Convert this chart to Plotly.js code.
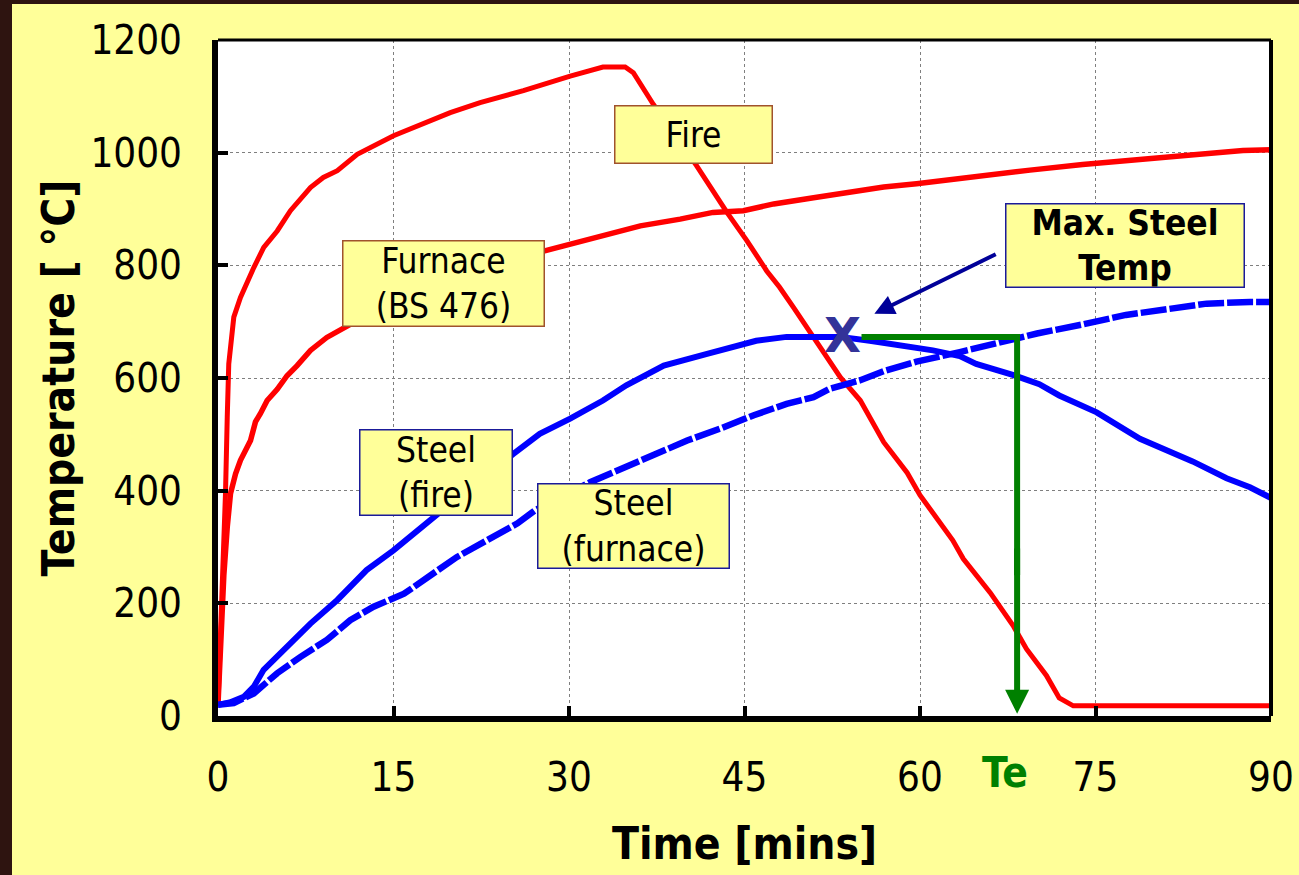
<!DOCTYPE html>
<html>
<head>
<meta charset="utf-8">
<script src="https://cdn.plot.ly/plotly-3.0.1.min.js"></script>
<style>
  html, body { margin: 0; padding: 0; background: #2e1410; width: 1299px; height: 875px; overflow: hidden; }
  #chart { position: absolute; left: 12px; top: 4px; width: 1287px; height: 871px; }
</style>
</head>
<body>
<div id="chart"></div>
<script>
// ---- Data ----
const fireTime = [0, 0.15, 0.36, 0.5, 0.64, 0.79, 0.92, 1.35, 1.92, 3.06, 3.91, 5.06, 6.19, 7.9, 9.0, 10.2, 11.9, 15.0, 17.0, 19.85, 22.4, 26.1, 30.1, 32.9, 34.8, 35.5, 37.2, 40.9, 43.5, 45.2, 46.9, 48.0, 49.2, 50.9, 53.2, 54.9, 56.9, 58.9, 60.0, 62.8, 63.7, 66.0, 68.0, 69.1, 70.8, 71.9, 73.1, 90];
const fireTemp = [20, 110, 182, 288, 395, 530, 625, 708, 743, 796, 832, 861, 897, 938, 956, 968, 997, 1030, 1047, 1071, 1089, 1110, 1136, 1152, 1152, 1142, 1086, 977, 894, 844, 790, 761, 725, 672, 601, 560, 486, 432, 392, 312, 279, 219, 159, 119, 72, 32, 18, 18];

const furnaceTime = [0, 0.25, 0.5, 0.79, 1.07, 1.5, 1.92, 2.78, 3.2, 3.63, 4.2, 5.06, 5.9, 6.76, 7.9, 9.3, 11.3, 15, 20, 25, 28, 30.1, 32.9, 36.1, 39.5, 42.3, 44.9, 47.5, 50.9, 53.7, 56.9, 59.7, 63.4, 66.3, 69.4, 73.9, 77.6, 81.1, 83.9, 87.6, 90];
const furnaceTemp = [20, 150, 250, 335, 395, 430, 454, 489, 522, 537, 560, 580, 604, 622, 649, 672, 696, 738, 780, 812, 826, 838, 853, 870, 882, 894, 897, 909, 920, 929, 939, 945, 955, 962, 969, 979, 985, 992, 997, 1004, 1005];

const steelFireTime = [0, 1.0, 2.2, 3.06, 3.9, 5.9, 7.9, 10.2, 12.7, 15.0, 18.1, 21.5, 25.3, 27.5, 30.1, 32.9, 34.9, 38.1, 41.8, 46.0, 48.6, 53.2, 55.7, 58.3, 61.1, 63.4, 64.8, 68.0, 70.2, 71.9, 75.1, 78.8, 83.3, 86.2, 88.2, 90];
const steelFireTemp = [20, 24, 34, 52, 82, 123, 164, 206, 259, 294, 347, 405, 466, 501, 528, 560, 587, 622, 643, 666, 673, 673, 666, 659, 649, 639, 625, 605, 589, 569, 539, 492, 452, 422, 406, 387];

const steelFurnaceTime = [0, 1.35, 3.06, 5.06, 7.05, 9.3, 11.3, 13.3, 15.9, 17.9, 20.4, 23.0, 25.6, 27.1, 29.5, 31.8, 33.5, 36.7, 40.1, 42.9, 45.8, 48.6, 50.9, 52.3, 54.9, 56.9, 59.7, 63.4, 66.0, 68.3, 70.0, 73.9, 77.6, 81.1, 84.5, 88.2, 90];
const steelFurnaceTemp = [20, 23, 40, 76, 105, 135, 170, 194, 217, 247, 282, 312, 342, 365, 392, 415, 430, 460, 489, 510, 534, 554, 566, 581, 596, 612, 629, 646, 659, 672, 679, 695, 712, 722, 732, 735, 735];

const xTicks = [0, 15, 30, 45, 60, 75, 90];
const yTicks = [0, 200, 400, 600, 800, 1000, 1200];

// Max steel temperature point and the time Te
const maxSteel = {t: 53.4, T: 673};
const teTime = 68.3;
const maxArrow = {tailT: 66.6, tailY: 821, tipT: 56.1, tipY: 714};

// Label boxes: text, centre (time, temp)
const boxLabels = ['Fire', 'Furnace<br>(BS 476)', 'Max. Steel<br>Temp', 'Steel<br>(fire)', 'Steel<br>(furnace)'];
const boxCentreT = [40.6, 19.3, 77.5, 18.6, 35.5];
const boxCentreY = [1032, 767, 836, 433, 337];

// ---- Styling ----
const FONT = '"DejaVu Sans Condensed", "DejaVu Sans", Verdana, sans-serif';
const FONTX = '"DejaVu Sans", Verdana, sans-serif';
const boxW = [156, 200, 237, 151, 190];
const boxH = [56, 84, 82, 84, 83];
const boxBorder = ['#A0522D', '#A0522D', '#1a1a9a', '#1a1a9a', '#1a1a9a'];
const boxBold = [false, false, true, false, false];

const traces = [
  {x: fireTime, y: fireTemp, name: 'Fire', mode: 'lines', line: {color: '#FF0000', width: 5}},
  {x: furnaceTime, y: furnaceTemp, name: 'Furnace (BS 476)', mode: 'lines', line: {color: '#FF0000', width: 5.5}},
  {x: steelFireTime, y: steelFireTemp, name: 'Steel (fire)', mode: 'lines', line: {color: '#0000FF', width: 6}},
  {x: steelFurnaceTime, y: steelFurnaceTemp, name: 'Steel (furnace)', mode: 'lines', line: {color: '#0000FF', width: 6.5, dash: '26px,3px'}}
];

const annotations = boxLabels.map((txt, i) => ({
  x: boxCentreT[i], y: boxCentreY[i], xref: 'x', yref: 'y',
  text: txt, showarrow: false,
  font: {family: FONT, size: 35, color: '#000000', weight: boxBold[i] ? 'bold' : 'normal'},
  bgcolor: '#FFFF99', bordercolor: boxBorder[i], borderwidth: 1.5, borderpad: 0,
  width: boxW[i], height: boxH[i], align: 'center', valign: 'middle'
}));

annotations.push(
  {x: maxSteel.t, y: maxSteel.T, xref: 'x', yref: 'y', text: 'X', showarrow: false,
   font: {family: FONTX, size: 48, color: '#333399', weight: 'bold'}, yshift: 2},
  {x: maxArrow.tipT, y: maxArrow.tipY, ax: maxArrow.tailT, ay: maxArrow.tailY, axref: 'x', ayref: 'y',
   xref: 'x', yref: 'y', text: '', showarrow: true, arrowhead: 2, arrowsize: 1, arrowwidth: 4,
   arrowcolor: '#000099', standoff: 0, startstandoff: 0},
  {x: teTime, y: 4, ax: teTime, ay: 300, axref: 'x', ayref: 'y', xref: 'x', yref: 'y',
   text: '', showarrow: true, arrowhead: 2, arrowsize: 0.8, arrowwidth: 6, arrowcolor: '#008000', standoff: 0},
  {x: 67.25, y: -0.083, xref: 'x', yref: 'paper', text: 'Te', showarrow: false,
   font: {family: FONT, size: 42, color: '#008000', weight: 'bold'}, yanchor: 'middle'}
);

const shapes = [
  {type: 'path', xref: 'x', yref: 'y', path: `M 55,${maxSteel.T} L ${teTime},${maxSteel.T} L ${teTime},250`,
   line: {color: '#008000', width: 6}},
  {type: 'line', xref: 'paper', yref: 'paper', x0: 0, x1: 1, y0: 1, y1: 1, line: {color: '#000', width: 3}},
  {type: 'line', xref: 'paper', yref: 'paper', x0: 1, x1: 1, y0: 0, y1: 1, line: {color: '#000', width: 4}}
];

const axisCommon = {
  showgrid: true, gridcolor: '#7f7f7f', griddash: 'dot', gridwidth: 1,
  showline: true, linecolor: '#000000', linewidth: 6, zeroline: false,
  ticks: 'inside', ticklen: 10, tickwidth: 4, tickcolor: '#000000',
  tickfont: {family: FONT, size: 40, color: '#000000'}, fixedrange: true
};

const layout = {
  width: 1287, height: 871,
  margin: {l: 206, r: 28, t: 36, b: 159, pad: 0},
  paper_bgcolor: '#FFFF99', plot_bgcolor: '#FFFFFF',
  showlegend: false,
  xaxis: Object.assign({}, axisCommon, {
    range: [0, 90], tickvals: xTicks, ticktext: xTicks.map(String),
    ticklabelstandoff: 21,
    title: {text: 'Time [mins]', font: {family: FONT, size: 44, color: '#000', weight: 'bold'}, standoff: 31}
  }),
  yaxis: Object.assign({}, axisCommon, {
    range: [0, 1200], tickvals: yTicks, ticktext: yTicks.map(String),
    ticklabelstandoff: 22,
    title: {text: 'Temperature [ °C]', font: {family: FONT, size: 44, color: '#000', weight: 'bold'}, standoff: 4}
  }),
  annotations: annotations,
  shapes: shapes
};

Plotly.newPlot('chart', traces, layout, {displayModeBar: false, staticPlot: true});
</script>
</body>
</html>
